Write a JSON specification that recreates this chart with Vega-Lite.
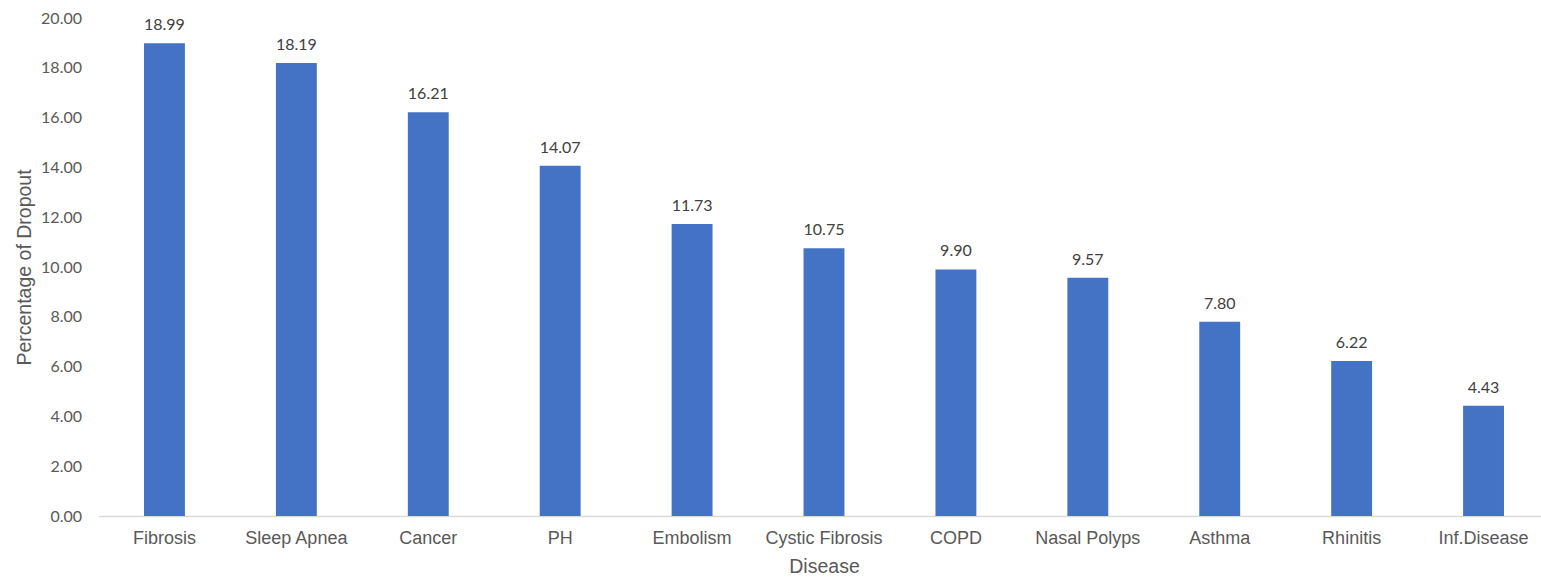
{
  "$schema": "https://vega.github.io/schema/vega-lite/v6.json",
  "width": 1451,
  "height": 498,
  "autosize": "none",
  "padding": {"left": 98.5, "top": 18, "right": 0, "bottom": 63},
  "background": "white",
  "config": {"view": {"stroke": null}},
  "data": {"values": [
    {"disease": "Fibrosis", "pct": 18.99},
    {"disease": "Sleep Apnea", "pct": 18.19},
    {"disease": "Cancer", "pct": 16.21},
    {"disease": "PH", "pct": 14.07},
    {"disease": "Embolism", "pct": 11.73},
    {"disease": "Cystic Fibrosis", "pct": 10.75},
    {"disease": "COPD", "pct": 9.90},
    {"disease": "Nasal Polyps", "pct": 9.57},
    {"disease": "Asthma", "pct": 7.80},
    {"disease": "Rhinitis", "pct": 6.22},
    {"disease": "Inf.Disease", "pct": 4.43}
  ]},
  "encoding": {
    "x": {
      "field": "disease", "type": "nominal", "sort": null,
      "scale": {"paddingInner": 0.69, "paddingOuter": 0.345},
      "axis": {
        "title": "Disease", "labelAngle": 0, "ticks": false,
        "domainColor": "#d9d9d9", "domainWidth": 1.5,
        "labelFont": "Liberation Sans", "labelFontSize": 18, "labelColor": "#595959",
        "labelPadding": 13,
        "titleFont": "Liberation Sans", "titleFontSize": 19.5, "titleColor": "#595959",
        "titleFontWeight": "normal", "titlePadding": 10
      }
    },
    "y": {
      "field": "pct", "type": "quantitative",
      "scale": {"domain": [0, 20]},
      "axis": {
        "title": "Percentage of Dropout", "values": [0,2,4,6,8,10,12,14,16,18,20],
        "format": ".2f", "grid": false, "domain": false, "ticks": false,
        "labelFont": "Lato", "labelFontSize": 16, "labelColor": "#595959",
        "labelPadding": 17,
        "titleFont": "Liberation Sans", "titleFontSize": 19.5, "titleColor": "#595959",
        "titleFontWeight": "normal", "titlePadding": 6
      }
    }
  },
  "layer": [
    {"mark": {"type": "bar", "color": "#4472c4"}},
    {
      "mark": {"type": "text", "baseline": "bottom", "dy": -10, "font": "Lato", "fontSize": 16, "color": "#404040"},
      "encoding": {"text": {"field": "pct", "type": "quantitative", "format": ".2f"}}
    }
  ]
}
